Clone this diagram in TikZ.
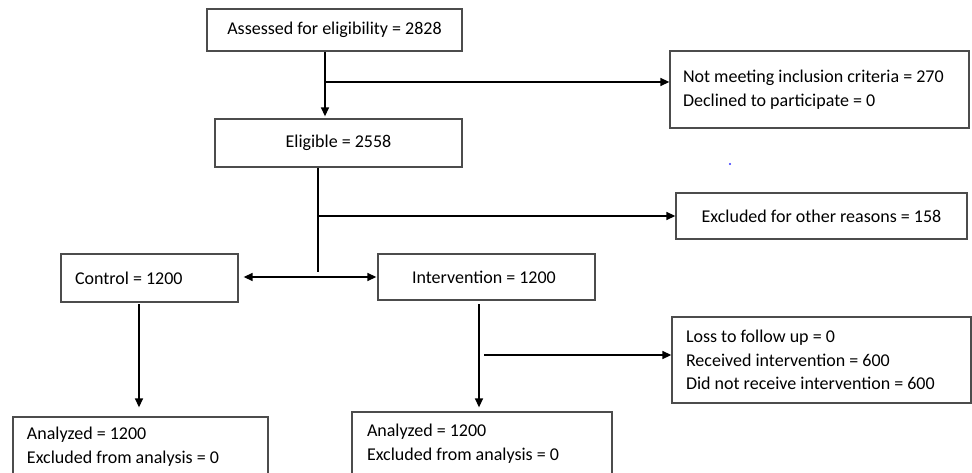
\documentclass[tikz,border=0pt]{standalone}
\usepackage{fontspec}
\setmainfont{Carlito}
\usetikzlibrary{arrows.meta}
\begin{document}
\begin{tikzpicture}[x=1pt,y=-1pt,
  box/.style={draw=black!70, line width=1.3pt, rectangle, inner sep=0pt, font=\fontsize{18}{23.5}\selectfont},
  lbox/.style={box, align=left, execute at begin node={\spaceskip=0.226em\relax\xspaceskip=0.226em\relax}},
  conn/.style={draw=black, line width=1.4pt},
  arr/.style={conn, -{Triangle[length=9pt,width=8pt]}},
  darr/.style={conn, {Triangle[length=9pt,width=8pt]}-{Triangle[length=9pt,width=8pt]}}
]
\useasboundingbox (0,0) rectangle (972,473);
% boxes
\node[box, minimum width=255pt, minimum height=42pt] (assess) at (334.5,30) {Assessed for eligibility = 2828};
\node[box, minimum width=247pt, minimum height=48pt] (elig) at (338.5,143) {Eligible = 2558};
\node[lbox, minimum width=299pt, minimum height=77pt, text width=273pt] (notmeet) at (819.5,89.5)
  {Not meeting inclusion criteria = 270\\Declined to participate = 0};
\node[box, minimum width=291pt, minimum height=46pt] (excl) at (821.5,216) {Excluded for other reasons = 158};
\node[lbox, minimum width=177pt, minimum height=48pt, text width=149pt] (control) at (149.5,278) {Control = 1200};
\node[lbox, minimum width=217pt, minimum height=46pt, text width=149pt, text depth=0pt] (interv) at (486.5,277) {\hspace*{0pt}Intervention = 1200};
\node[lbox, minimum width=299pt, minimum height=86pt, text width=271pt] (loss) at (821.5,360)
  {Loss to follow up = 0\\Received intervention = 600\\Did not receive intervention = 600};
\node[lbox, minimum width=255pt, minimum height=59pt, text width=227pt] (anaL) at (140.5,446.5)
  {Analyzed = 1200\\Excluded from analysis = 0};
\node[lbox, minimum width=260pt, minimum height=63pt, text width=230pt] (anaR) at (482,443.5)
  {Analyzed = 1200\\Excluded from analysis = 0};
% helper coordinates
\coordinate (c1) at (325,82);
\coordinate (c2) at (318,272);
\coordinate (c3) at (318,277);
\coordinate (c4) at (139,304);
\coordinate (c5) at (479,304);
\coordinate (c6) at (484,355);
% connectors
\draw[arr] (assess.south -| c1) -- ([yshift=2pt]elig.north -| c1);
\draw[arr] (c1) -- (c1 -| notmeet.west);
\draw[conn] (elig.south -| c2) -- (c2);
\draw[arr] (c2 |- excl.west) -- (excl.west);
\draw[darr] ([xshift=5pt]c3 -| control.east) -- ([xshift=-1pt]c3 -| interv.west);
\draw[arr] (c4) -- ([yshift=9pt]anaL.north -| c4);
\draw[arr] (c5) -- ([yshift=4pt]anaR.north -| c5);
\draw[arr] (c6) -- (c6 -| loss.west);
% stray dot
\fill[blue!80] (730,164) circle (1.2pt);
\end{tikzpicture}
\end{document}
